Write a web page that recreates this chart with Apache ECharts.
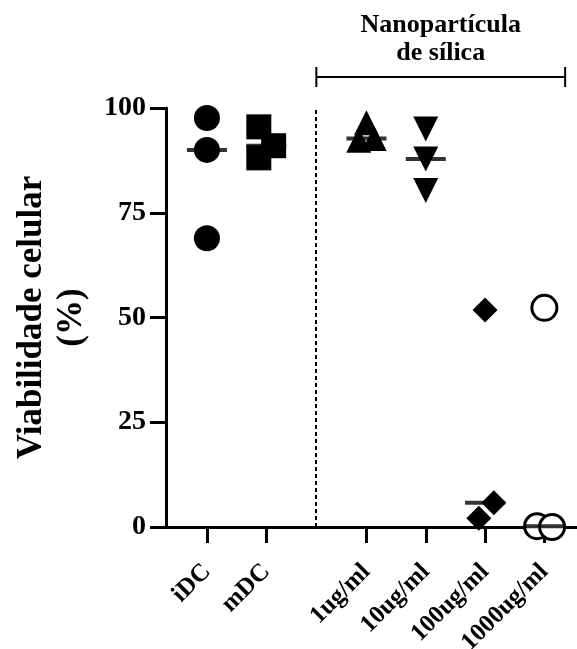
<!DOCTYPE html>
<html><head><meta charset="utf-8">
<script src="https://cdn.jsdelivr.net/npm/echarts@6/dist/echarts.min.js"></script>
<style>html,body{margin:0;padding:0;background:#fff}#c{width:577px;height:649px}</style>
</head><body><div id="c"></div>
<script>
// ---- data ----
const categories = ['iDC', 'mDC', '1ug/ml', '10ug/ml', '100ug/ml', '1000ug/ml'];
const valuesIDC = [97.6, 90.0, 68.9];
const valuesMDC = [95.5, 91.0, 88.1];
const values1 = [96.5, 92.3, 92.7];
const values10 = [95.0, 87.8, 80.3];
const values100 = [51.8, 2.1, 5.8];
const values1000 = [52.3, 0.2, 0.0];
const yTicks = [0, 25, 50, 75, 100];
const groupLabel = 'Nanopartícula\nde sílica';
const yTitle = 'Viabilidade celular\n(%)';

// ---- layout ----
const FONT = '"Liberation Serif","Times New Roman",serif';
const groupGap = 0.69;
const xPos = categories.map((c, i) => i + 1 + (i >= 2 ? groupGap : 0));
const jitter = [[0,0,0],[-0.125,0.125,-0.125],[0,-0.13,0.13],[0,0,0],[0,-0.106,0.147],[0,-0.123,0.13]];
const allValues = [valuesIDC, valuesMDC, values1, values10, values100, values1000];
const symbolDefs = [
  {symbol:'circle', size:26, rotate:0, color:'#000', border:0},
  {symbol:'rect', size:25, rotate:0, color:'#000', border:0},
  {symbol:'triangle', size:25, rotate:0, color:'#000', border:0},
  {symbol:'triangle', size:25, rotate:180, color:'#000', border:0},
  {symbol:'diamond', size:25, rotate:0, color:'#000', border:0},
  {symbol:'circle', size:25, rotate:0, color:'#fff', border:3}
];
const dividerX = (xPos[1] + xPos[2]) / 2;
const bracketEndX = xPos[5] + 0.35;
const bracketY = 107.4;

function median(a) { const s = [...a].sort((x, y) => x - y); const m = Math.floor(s.length / 2); return s.length % 2 ? s[m] : (s[m - 1] + s[m]) / 2; }

const series = allValues.map((vals, i) => ({
  type: 'scatter', clip: false, z: 3,
  symbol: symbolDefs[i].symbol, symbolSize: symbolDefs[i].size, symbolRotate: symbolDefs[i].rotate,
  itemStyle: { color: symbolDefs[i].color, borderColor: '#000', borderWidth: symbolDefs[i].border, opacity: 1 },
  data: vals.map((v, j) => [xPos[i] + jitter[i][j], v])
}));
series.push({
  type: 'scatter', clip: false, z: 4, symbol: 'rect', symbolSize: [40, 4],
  itemStyle: { color: '#000' },
  data: allValues.map((vals, i) => [xPos[i], median(vals)]),
  markLine: { silent: true, symbol: 'none', label: { show: false },
    lineStyle: { color: '#000', type: [4, 3], width: 2 },
    data: [{ xAxis: dividerX }] }
});

const chart = echarts.init(document.getElementById('c'));
chart.setOption({
  animation: false,
  backgroundColor: '#fff',
  grid: { left: 166, right: 0, top: 108, bottom: 122, containLabel: false, outerBoundsMode: 'none' },
  xAxis: {
    type: 'value', min: 0.31, max: 7.24,
    splitLine: { show: false },
    axisLine: { onZero: false, lineStyle: { color: '#000', width: 3 } },
    axisTick: { show: true, customValues: xPos, length: 16, lineStyle: { color: '#000', width: 3 } },
    axisLabel: { customValues: xPos, rotate: 45, margin: 41, color: '#000', fontWeight: 'bold', fontSize: 25, fontFamily: FONT,
      formatter: v => { const k = xPos.findIndex(p => Math.abs(p - v) < 1e-6); return k >= 0 ? categories[k] : ''; } }
  },
  yAxis: {
    type: 'value', min: 0, max: 100, interval: 25,
    splitLine: { show: false },
    axisLine: { show: true, onZero: false, lineStyle: { color: '#000', width: 3 } },
    axisTick: { show: true, length: 16, lineStyle: { color: '#000', width: 3 } },
    axisLabel: { margin: 20, color: '#000', fontWeight: 'bold', fontSize: 28, fontFamily: FONT,
      formatter: v => yTicks.includes(v) ? String(v) : '' },
    name: yTitle, nameLocation: 'middle', nameRotate: 90, nameGap: 74,
    nameTextStyle: { color: '#000', fontWeight: 'bold', fontSize: 35, fontFamily: FONT, lineHeight: 40, align: 'center' }
  },
  series: series
});

const a = chart.convertToPixel({ xAxisIndex: 0, yAxisIndex: 0 }, [dividerX, bracketY]);
const b = chart.convertToPixel({ xAxisIndex: 0, yAxisIndex: 0 }, [bracketEndX, bracketY]);
const cap = 10;
chart.setOption({
  graphic: [
    { type: 'line', shape: { x1: a[0], y1: a[1], x2: b[0], y2: b[1] }, style: { stroke: '#000', lineWidth: 2 } },
    { type: 'line', shape: { x1: a[0], y1: a[1] - cap, x2: a[0], y2: a[1] + cap }, style: { stroke: '#000', lineWidth: 2 } },
    { type: 'line', shape: { x1: b[0], y1: b[1] - cap, x2: b[0], y2: b[1] + cap }, style: { stroke: '#000', lineWidth: 2 } },
    { type: 'text', x: (a[0] + b[0]) / 2, y: a[1] - 10,
      style: { text: groupLabel, fill: '#000', font: 'bold 26px ' + FONT, align: 'center', verticalAlign: 'bottom', lineHeight: 28 } }
  ]
});
</script></body></html>
